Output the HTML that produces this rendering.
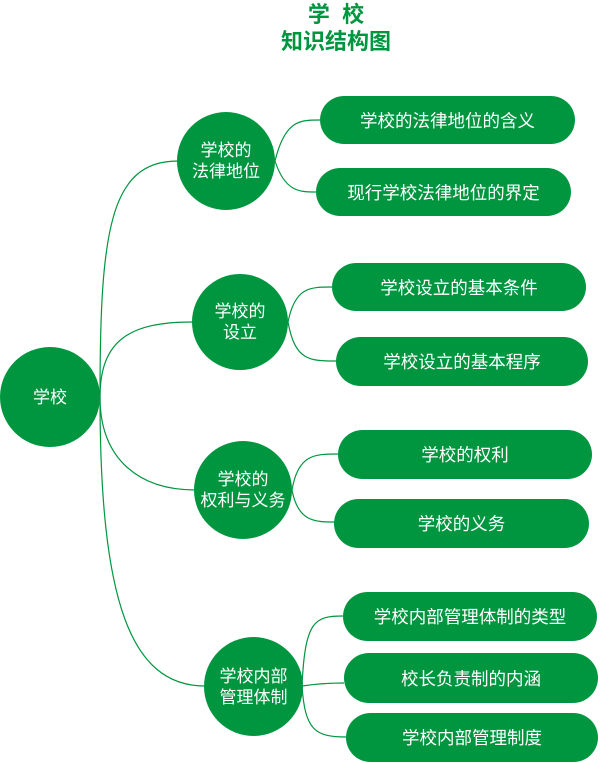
<!DOCTYPE html>
<html><head><meta charset="utf-8"><style>
body{margin:0;width:600px;height:763px;background:#fff;overflow:hidden;position:relative;font-family:"Liberation Sans","Noto Sans CJK SC",sans-serif}
.t{position:absolute;left:236px;width:200px;text-align:center;color:#009640;font-weight:bold;font-size:22px;line-height:24px}
.c{position:absolute;border-radius:50%;background:#009640;color:#fff;display:flex;align-items:center;justify-content:center;text-align:center;font-size:17px;line-height:21px}
.p{position:absolute;border-radius:25px;background:#009640;color:#fff;display:flex;align-items:center;justify-content:center;font-size:17.5px}
svg{position:absolute;left:0;top:0}
</style></head><body>
<div class="t" style="top:3px">学&nbsp;&nbsp;校</div>
<div class="t" style="top:30px">知识结构图</div>
<svg width="600" height="763" fill="none" stroke="#009640" stroke-width="1.2">
<path d="M100,397 C100,230 110,161 178,161"/>
<path d="M100,397 C100,340 130,322 192,322"/>
<path d="M100,397 C100,460 140,490 195,490"/>
<path d="M100,397 C100,600 130,686 205,686"/>
<path d="M275,161 C285,120 300,120 320,120"/>
<path d="M275,161 C285,192 300,192 316,192"/>
<path d="M288,322 C295,287 310,287 332,287"/>
<path d="M288,322 C295,361 310,361 336,361"/>
<path d="M292,490 C298,454 315,454 338,454"/>
<path d="M292,490 C298,522 315,522 335,522"/>
<path d="M302,686 C305,620 315,616 343,616"/>
<path d="M302,686 C315,684 325,683 344,683"/>
<path d="M302,686 C305,730 315,737 346,737"/>
</svg>
<div class="c" style="left:0;top:347px;width:100px;height:100px">学校</div>
<div class="c" style="left:177px;top:112px;width:98px;height:98px">学校的<br>法律地位</div>
<div class="c" style="left:192px;top:274px;width:96px;height:96px">学校的<br>设立</div>
<div class="c" style="left:194px;top:441px;width:98px;height:98px">学校的<br>权利与义务</div>
<div class="c" style="left:204px;top:637px;width:99px;height:99px">学校内部<br>管理体制</div>
<div class="p" style="left:320px;top:96px;width:255px;height:48px">学校的法律地位的含义</div>
<div class="p" style="left:316px;top:168px;width:255px;height:48px">现行学校法律地位的界定</div>
<div class="p" style="left:332px;top:263px;width:254px;height:48px">学校设立的基本条件</div>
<div class="p" style="left:336px;top:337px;width:252px;height:49px">学校设立的基本程序</div>
<div class="p" style="left:338px;top:430px;width:254px;height:49px">学校的权利</div>
<div class="p" style="left:334px;top:499px;width:255px;height:49px">学校的义务</div>
<div class="p" style="left:343px;top:592px;width:254px;height:49px">学校内部管理体制的类型</div>
<div class="p" style="left:344px;top:653px;width:254px;height:50px">校长负责制的内涵</div>
<div class="p" style="left:346px;top:713px;width:252px;height:49px">学校内部管理制度</div>
</body></html>
